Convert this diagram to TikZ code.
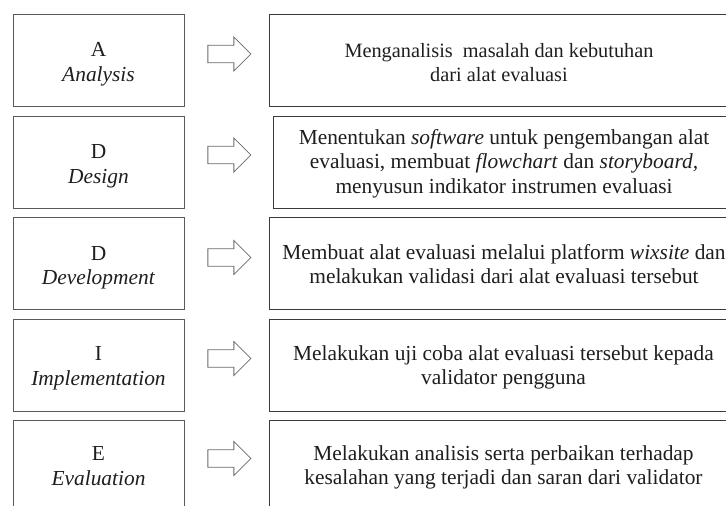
\documentclass[tikz,border=0pt]{standalone}
\usepackage{fontspec}
\setmainfont{Liberation Serif}
\usetikzlibrary{shapes.arrows}
\definecolor{lframe}{HTML}{5A5A5A}
\definecolor{rframe}{HTML}{3A3A3A}
\definecolor{aframe}{HTML}{6A6A6A}
\definecolor{ink}{HTML}{1E1E1E}
\tikzset{
  leftbox/.style={draw=lframe, line width=1pt, rectangle, inner sep=0pt,
    minimum width=171pt, minimum height=92pt},
  rightbox/.style={draw=rframe, line width=1pt, rectangle, inner sep=0pt,
    minimum width=462pt, minimum height=92pt},
  txt/.style={font=\fontsize{21.4}{24.5}\selectfont, text=ink, align=center,
    inner sep=0pt, anchor=base},
  txtsmall/.style={txt, font=\fontsize{20.3}{24}\selectfont},
  blockarrow/.style={draw=aframe, line width=0.8pt, single arrow, inner xsep=0pt,
    inner ysep=8.3pt, minimum height=43pt, single arrow head extend=8.3pt,
    single arrow tip angle=90}
}
\begin{document}
\begin{tikzpicture}[x=1pt,y=-1pt]
\useasboundingbox (0,0) rectangle (726,506);
\clip (0,0) rectangle (726,506);
% left boxes
\node[leftbox] (L1) at (98.5,60) {};
\node[leftbox] (L2) at (98.5,162) {};
\node[leftbox] (L3) at (98.5,263.5) {};
\node[leftbox] (L4) at (98.5,365) {};
\node[leftbox] (L5) at (98.5,466) {};
% right boxes
\node[rightbox] (R1) at (500,60) {};
\node[rightbox, minimum width=458pt] (R2) at (502,162) {};
\node[rightbox] (R3) at (500,263.5) {};
\node[rightbox] (R4) at (500,365) {};
\node[rightbox] (R5) at (500,466) {};
% arrows
\node[blockarrow] (A1) at (225,54) {};
\node[blockarrow] (A2) at (225,155) {};
\node[blockarrow] (A3) at (225,257.5) {};
\node[blockarrow] (A4) at (225,358.5) {};
\node[blockarrow] (A5) at (225,458.5) {};
% left texts (anchor = baseline of last line)
\node[txt] (tL1) at (98.5,81) {A\\\textit{Analysis}};
\node[txt] (tL2) at (98.5,183) {D\\\textit{Design}};
\node[txt] (tL3) at (98.5,284.5) {D\\\textit{Development}};
\node[txt] (tL4) at (98.5,385) {I\\\textit{Implementation}};
\node[txt] (tL5) at (98.5,485) {E\\\textit{Evaluation}};
% right texts
\node[txtsmall] (tR1) at (499,81) {Menganalisis\ \ masalah dan kebutuhan\\dari alat evaluasi};
\node[txt] (tR2) at (504,193) {Menentukan \textit{software} untuk pengembangan alat\\evaluasi, membuat \textit{flowchart} dan \textit{storyboard,}\\menyusun indikator instrumen evaluasi};
\node[txt] (tR3) at (504,283.5) {Membuat alat evaluasi melalui platform \textit{wixsite} dan\\melakukan validasi dari alat evaluasi tersebut};
\node[txt] (tR4) at (503.5,384.5) {Melakukan uji coba alat evaluasi tersebut kepada\\validator pengguna};
\node[txt] (tR5) at (503.5,484.5) {Melakukan analisis serta perbaikan terhadap\\kesalahan yang terjadi dan saran dari validator};
\end{tikzpicture}
\end{document}
